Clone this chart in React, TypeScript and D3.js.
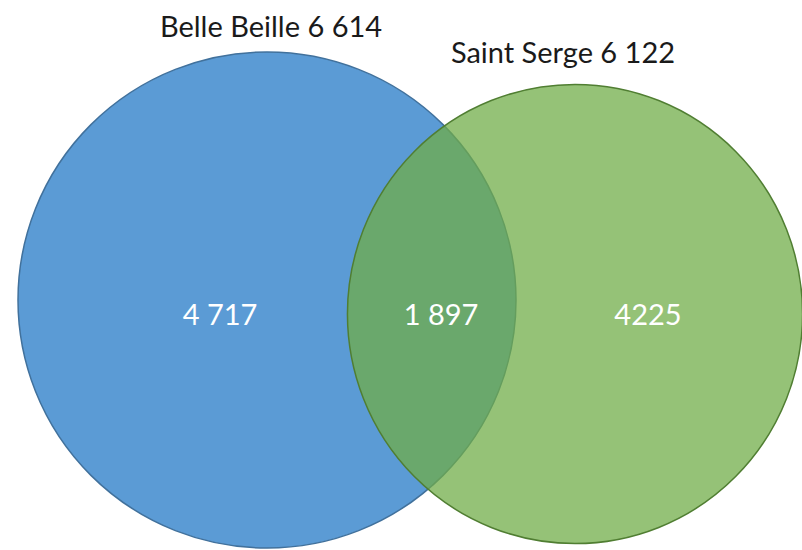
import React, { useEffect, useRef } from 'react';
import * as d3 from 'd3';

// set names and totals
const setNames = ['Belle Beille', 'Saint Serge'];
const setTotals = [6614, 6122];
// region counts: only Belle Beille, both, only Saint Serge
const regionLabels = ['4 717', '1 897', '4225'];

const setColors = ['#5B9BD5', '#70AD47'];
const setStrokes = ['#41719C', '#507E32'];

const fmt = (n: number) => d3.format(',')(n).replace(/,/g, ' ');

const App: React.FC = () => {
    const ref = useRef<SVGSVGElement>(null);

    useEffect(() => {
        if (!ref.current) return;
        const svg = d3.select(ref.current);
        svg.selectAll('*').remove();

        // radius proportional to set total
        const r = d3.scaleLinear().domain([0, d3.max(setTotals) as number]).range([0, 248]);
        // horizontal placement of the two sets
        const x = d3.scalePoint<string>().domain(setNames).range([267, 575]);
        const cy = [300, 314];

        const g = svg.append('g');

        g.selectAll('ellipse.set')
            .data(setNames)
            .enter()
            .append('ellipse')
            .attr('class', 'set')
            .attr('cx', d => x(d) as number)
            .attr('cy', (d, i) => cy[i])
            .attr('rx', (d, i) => r(setTotals[i]) + (i === 1 ? -2 : 1))
            .attr('ry', (d, i) => r(setTotals[i]))
            .attr('fill', (d, i) => setColors[i])
            .attr('fill-opacity', (d, i) => (i === 0 ? 1 : 0.74))
            .attr('stroke', (d, i) => setStrokes[i])
            .attr('stroke-width', 1.5);

        // set titles
        const titleX = [271, 563];
        const titleY = [37, 63];
        g.selectAll('text.title')
            .data(setNames)
            .enter()
            .append('text')
            .attr('class', 'title')
            .attr('x', (d, i) => titleX[i])
            .attr('y', (d, i) => titleY[i])
            .attr('text-anchor', 'middle')
            .attr('font-family', 'Lato, sans-serif')
            .attr('font-size', '29px')
            .attr('fill', '#1a1a1a')
            .text((d, i) => `${d} ${fmt(setTotals[i])}`);

        // region counts
        const regionX = [220, 441, 648];
        g.selectAll('text.region')
            .data(regionLabels)
            .enter()
            .append('text')
            .attr('class', 'region')
            .attr('x', (d, i) => regionX[i])
            .attr('y', 325)
            .attr('text-anchor', 'middle')
            .attr('font-family', 'Lato, sans-serif')
            .attr('font-size', '29px')
            .attr('fill', '#ffffff')
            .text(d => d);
    }, []);

    return (
        <svg
            ref={ref}
            width={802}
            height={550}
            style={{ position: 'fixed', top: 0, left: 0, display: 'block', background: '#ffffff' }}
        />
    );
};

export default App;
